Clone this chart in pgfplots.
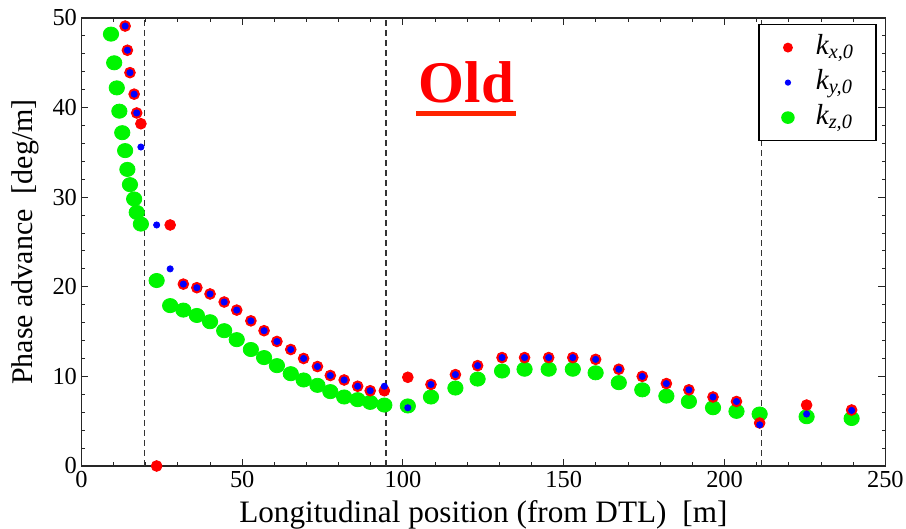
\documentclass[border=0pt]{standalone}
\usepackage{fontspec}
\setmainfont{Liberation Serif}
\usepackage{pgfplots}
\pgfplotsset{compat=1.18}
\definecolor{mred}{RGB}{255,0,0}
\definecolor{mblue}{RGB}{0,0,255}
\definecolor{mgreen}{RGB}{0,245,0}
\definecolor{ulred}{RGB}{255,35,0}

\pgfplotstableread{
x y
13.6 49.1
14.3 46.4
15.1 43.9
16.4 41.5
17.2 39.4
18.5 38.2
23.4 0.0
27.6 26.9
31.7 20.3
35.9 19.9
40.0 19.2
44.4 18.3
48.3 17.4
52.7 16.2
56.8 15.1
60.8 13.9
65.1 13.0
69.1 12.0
73.4 11.1
77.4 10.1
81.7 9.6
85.9 8.9
89.8 8.4
94.2 8.4
101.5 9.9
108.7 9.1
116.3 10.2
123.2 11.2
130.8 12.1
137.8 12.1
145.3 12.1
152.8 12.1
159.9 11.9
167.1 10.8
174.4 10.0
181.9 9.2
188.9 8.5
196.4 7.7
203.7 7.2
210.9 4.8
225.5 6.8
239.5 6.25
}\kx

\pgfplotstableread{
x y
13.6 49.1
14.3 46.4
15.1 43.9
16.4 41.5
17.2 39.4
18.5 35.6
23.4 26.9
27.6 22.0
31.7 20.3
35.9 19.9
40.0 19.2
44.4 18.3
48.3 17.4
52.7 16.2
56.8 15.1
60.8 13.9
65.1 13.0
69.1 12.0
73.4 11.1
77.4 10.1
81.7 9.6
85.9 8.9
89.8 8.4
94.2 8.9
101.5 6.5
108.7 9.1
116.3 10.2
123.2 11.2
130.8 12.1
137.8 12.1
145.3 12.1
152.8 12.1
159.9 11.9
167.1 10.8
174.4 10.0
181.9 9.2
188.9 8.5
196.4 7.7
203.7 7.2
210.9 4.6
225.5 5.8
239.5 6.2
}\ky

\pgfplotstableread{
x y
9.2 48.2
10.2 45.0
11.0 42.2
11.8 39.6
12.7 37.2
13.6 35.2
14.3 33.1
15.1 31.4
16.4 29.8
17.2 28.3
18.5 27.0
23.4 20.7
27.6 17.9
31.7 17.4
35.9 16.8
40.0 16.1
44.4 15.1
48.3 14.1
52.7 13.0
56.8 12.1
60.8 11.2
65.1 10.3
69.1 9.6
73.4 9.0
77.4 8.3
81.7 7.7
85.9 7.4
89.8 7.1
94.2 6.8
101.5 6.7
108.7 7.7
116.3 8.7
123.2 9.7
130.8 10.6
137.8 10.8
145.3 10.8
152.8 10.8
159.9 10.4
167.1 9.3
174.4 8.5
181.9 7.8
188.9 7.2
196.4 6.5
203.7 6.1
210.9 5.8
225.5 5.5
239.5 5.3
}\kz

\pgfplotsset{
  mylegend/.style={legend image code/.code={%
    \path[draw=none, fill=none] (0pt,-3pt) rectangle (18pt,3pt);
    \draw[##1, every mark/.append style={scale=0.8}] plot coordinates {(10.5pt,0pt)};}},
}

\begin{document}
\begin{tikzpicture}
\begin{axis}[
  scale only axis,
  width=402pt, height=224pt,
  xmin=0, xmax=250, ymin=0, ymax=50,
  xtick={0,50,...,250}, minor x tick num=4,
  ytick={0,10,...,50}, minor y tick num=4,
  tick align=inside,
  major tick length=3.5pt, minor tick length=1.8pt,
  axis line style={line width=0.6pt, black!85},
  every tick/.style={black!85, line width=0.5pt},
  /pgf/number format/assume math mode=true,
  ticklabel style={font=\fontsize{12.2}{14}\selectfont},
  xticklabel style={yshift=1pt},
  yticklabel style={xshift=1.3pt},
  xlabel={Longitudinal position (from DTL)\hspace{8pt}[m]},
  ylabel={Phase advance\ \ [deg/m]},
  xlabel style={font=\fontsize{15.6}{17}\selectfont, at={([yshift=-28.5pt]axis description cs:0.5,0)}, anchor=base},
  ylabel style={font=\fontsize{15}{17}\selectfont, at={([xshift=-24.2pt]axis description cs:0,0.5)}, anchor=base},
  legend style={at={(0.989,0.9866)}, anchor=north east,
    draw=black, line width=0.6pt, inner xsep=4pt, inner ysep=3pt,
    font=\fontsize{14.5}{16}\selectfont, row sep=0.5pt, column sep=6.5pt,
    nodes={text height=10.5pt, text depth=3.5pt, inner ysep=1.5pt, inner xsep=0pt}},
  legend cell align=left,
]
\addplot[black!80, line width=0.6pt, dash pattern=on 3pt off 2pt, forget plot] coordinates {(19.5,0) (19.5,50)};
\addplot[black!80, line width=0.6pt, dash pattern=on 3pt off 2pt, forget plot] coordinates {(94.7,0) (94.7,50)};
\addplot[black!80, line width=0.6pt, dash pattern=on 3pt off 2pt, forget plot] coordinates {(211.4,0) (211.4,50)};

\addplot[only marks, color=mgreen, mark=*, mark size=3.55pt, mark options={xscale=1.08}, forget plot] table {\kz};
\addplot[only marks, color=mred, mark=*, mark size=2.7pt, mylegend] table {\kx};
\addlegendentry{\makebox[26pt][l]{\textit{k\textsubscript{x,0}}}}
\addplot[only marks, color=mblue, mark=*, mark size=1.55pt, mylegend] table {\ky};
\addlegendentry{\makebox[26pt][l]{\textit{k\textsubscript{y,0}}}}
\addlegendimage{only marks, color=mgreen, mark=*, mark size=3.55pt, mark options={xscale=1.08}, mylegend}
\addlegendentry{\makebox[26pt][l]{\textit{k\textsubscript{z,0}}}}

\node[anchor=base, inner sep=0pt, text=red, font=\fontsize{29.5}{32}\selectfont\bfseries] (old) at (axis cs:119.7,40.6) {Old};
\end{axis}
\draw[ulred, line width=2.5pt] ([xshift=-1pt,yshift=-5.75pt]old.base west) -- ([xshift=1pt,yshift=-5.75pt]old.base east);
\pgfresetboundingbox
\path (current axis.south west) ++(-40.7pt,-31.5pt) rectangle ++(453pt,264.5pt);
\end{tikzpicture}
\end{document}
